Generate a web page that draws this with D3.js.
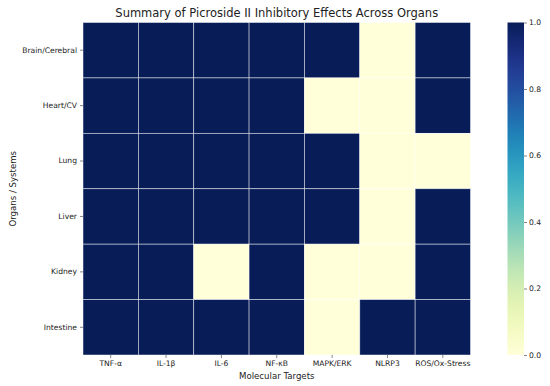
<!DOCTYPE html>
<html>
<head>
<meta charset="utf-8">
<script src="https://cdn.jsdelivr.net/npm/d3@7"></script>
<style>
  body { margin: 0; background: #fff; }
  text { font-family: "DejaVu Sans", sans-serif; fill: #222; }
</style>
</head>
<body>
<svg width="550" height="386"></svg>
<script>
var svg = d3.select('svg');

// data
var organs = ["Brain/Cerebral", "Heart/CV", "Lung", "Liver", "Kidney", "Intestine"];
var targets = ["TNF-α", "IL-1β", "IL-6", "NF-κB", "MAPK/ERK", "NLRP3", "ROS/Ox-Stress"];
var brain = [1, 1, 1, 1, 1, 0, 1];
var heart = [1, 1, 1, 1, 0, 0, 1];
var lung = [1, 1, 1, 1, 1, 0, 0];
var liver = [1, 1, 1, 1, 1, 0, 1];
var kidney = [1, 1, 0, 1, 0, 0, 1];
var intestine = [1, 1, 1, 1, 0, 1, 1];
var cbTicks = [0, 0.2, 0.4, 0.6, 0.8, 1.0];

var rows = [brain, heart, lung, liver, kidney, intestine];
var cells = [];
rows.forEach(function(r, i) {
    r.forEach(function(v, j) {
        cells.push({ organ: organs[i], target: targets[j], value: v });
    });
});

// plot edges (plotTop: "top" clashes with window.top)
var plotLeft = 83, plotRight = 470.5, plotTop = 22.5, plotBottom = 355;

var x = d3.scaleBand().domain(targets).range([plotLeft, plotRight]);
var y = d3.scaleBand().domain(organs).range([plotTop, plotBottom]);
var color = d3.scaleSequential(d3.interpolateYlGnBu).domain([0, 1]);

svg.append("g").selectAll("rect")
    .data(cells)
    .enter().append("rect")
    .attr("x", function(d) { return x(d.target); })
    .attr("y", function(d) { return y(d.organ); })
    .attr("width", x.bandwidth())
    .attr("height", y.bandwidth())
    .attr("fill", function(d) { return color(d.value); })
    .attr("stroke", "#fff")
    .attr("stroke-opacity", 0.65)
    .attr("stroke-width", 0.7);

// axes
var xAxis = svg.append("g")
    .attr("transform", "translate(0," + plotBottom + ")")
    .call(d3.axisBottom(x).tickSize(3).tickPadding(2.5));
xAxis.select(".domain").remove();
xAxis.selectAll("text").style("font-size", "7.6px").attr("fill", "#222");
xAxis.selectAll("line").attr("stroke", "#333").attr("stroke-width", 0.6);

var yAxis = svg.append("g")
    .attr("transform", "translate(" + plotLeft + ",0)")
    .call(d3.axisLeft(y).tickSize(3).tickPadding(3));
yAxis.select(".domain").remove();
yAxis.selectAll("text").style("font-size", "7.6px").attr("fill", "#222");
yAxis.selectAll("line").attr("stroke", "#333").attr("stroke-width", 0.6);

// labels
svg.append("text")
    .attr("x", (plotLeft + plotRight) / 2)
    .attr("y", 17)
    .attr("text-anchor", "middle")
    .style("font-size", "11.5px")
    .text("Summary of Picroside II Inhibitory Effects Across Organs");

svg.append("text")
    .attr("x", (plotLeft + plotRight) / 2)
    .attr("y", 378.5)
    .attr("text-anchor", "middle")
    .style("font-size", "8.6px")
    .text("Molecular Targets");

svg.append("text")
    .attr("transform", "translate(16," + ((plotTop + plotBottom) / 2) + ") rotate(-90)")
    .attr("text-anchor", "middle")
    .style("font-size", "8.6px")
    .text("Organs / Systems");

// colorbar
var cbX = 507.5, cbW = 16.5;
var defs = svg.append("defs");
var grad = defs.append("linearGradient")
    .attr("id", "cbgrad")
    .attr("x1", "0%").attr("y1", "100%")
    .attr("x2", "0%").attr("y2", "0%");
d3.range(0, 1.0001, 0.05).forEach(function(t) {
    grad.append("stop")
        .attr("offset", (t * 100) + "%")
        .attr("stop-color", color(t));
});
svg.append("rect")
    .attr("x", cbX)
    .attr("y", plotTop)
    .attr("width", cbW)
    .attr("height", plotBottom - plotTop)
    .attr("fill", "url(#cbgrad)");

var cbScale = d3.scaleLinear().domain([0, 1]).range([plotBottom, plotTop]);
var cbAxis = svg.append("g")
    .attr("transform", "translate(" + (cbX + cbW) + ",0)")
    .call(d3.axisRight(cbScale).tickValues(cbTicks).tickFormat(d3.format(".1f")).tickSize(3).tickPadding(2));
cbAxis.select(".domain").remove();
cbAxis.selectAll("text").style("font-size", "7.6px").attr("fill", "#222");
cbAxis.selectAll("line").attr("stroke", "#333").attr("stroke-width", 0.6);
</script>
</body>
</html>
